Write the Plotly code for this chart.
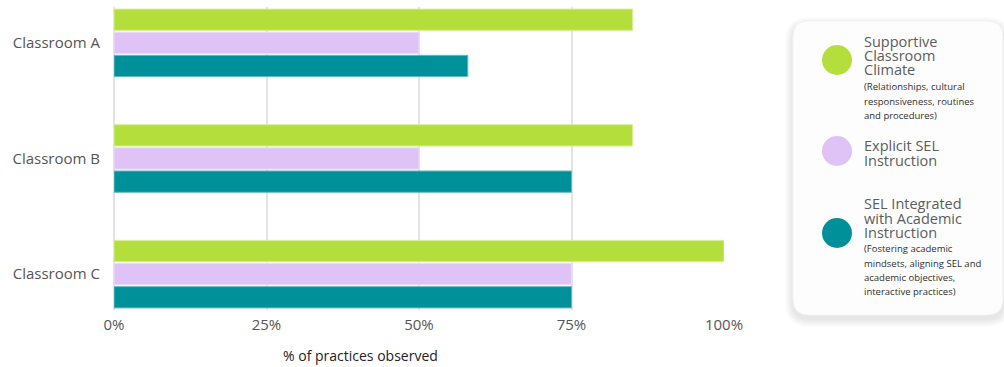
import plotly.graph_objects as go

# Share of observed practices per classroom, by practice domain
classrooms = ["Classroom A", "Classroom B", "Classroom C"]
supportive_climate = [85, 85, 100]
explicit_sel = [50, 50, 75]
sel_integrated = [58, 75, 75]

series_names = [
    "Supportive Classroom Climate",
    "Explicit SEL Instruction",
    "SEL Integrated with Academic Instruction",
]
series_values = [supportive_climate, explicit_sel, sel_integrated]
series_colors = ["#b4de3b", "#dfc2f6", "#00909a"]
series_edges = ["#d6ee94", "#ecdcf9", "#66b9be"]

x_ticks = [0, 25, 50, 75, 100]
x_tick_labels = ["0%", "25%", "50%", "75%", "100%"]
x_title = "% of practices observed"

W, H = 1004, 367
ML, MR, MT, MB = 114, 280, 7, 57
PW, PH = W - ML - MR, H - MT - MB

FONT = "'Open Sans', 'Noto Sans', sans-serif"


def px(x):
    return (x - ML) / PW


def py(y):
    return (H - MB - y) / PH


fig = go.Figure()
for name, vals, col, edge in zip(series_names, series_values, series_colors, series_edges):
    fig.add_trace(go.Bar(
        y=classrooms, x=vals, name=name, orientation="h",
        marker=dict(color=col, line=dict(color=edge, width=1)),
        showlegend=False,
        hovertemplate="%{y}: %{x}%<extra>" + name + "</extra>",
    ))

shapes = []


def rounded_rect(x0, y0, x1, y1, r):
    # rounded rectangle in pixel space, converted to paper coordinates
    def P(x, y):
        return f"{px(x):.5f},{py(y):.5f}"
    return (f"M {P(x0 + r, y0)} L {P(x1 - r, y0)} Q {P(x1, y0)} {P(x1, y0 + r)} "
            f"L {P(x1, y1 - r)} Q {P(x1, y1)} {P(x1 - r, y1)} "
            f"L {P(x0 + r, y1)} Q {P(x0, y1)} {P(x0, y1 - r)} "
            f"L {P(x0, y0 + r)} Q {P(x0, y0)} {P(x0 + r, y0)} Z")


# soft drop shadow behind the legend card
for i in range(8):
    g = 8 - i
    shapes.append(dict(type="path", xref="paper", yref="paper",
                       path=rounded_rect(793 - g, 21 - g + 4, 1003 + g, 315 + g + 4, 16 + g),
                       fillcolor="rgba(0,0,0,0.012)", line=dict(width=0), layer="below"))
shapes.append(dict(type="path", xref="paper", yref="paper",
                   path=rounded_rect(793, 21, 1003, 315, 16),
                   fillcolor="#fdfdfd", line=dict(color="#f3f3f3", width=1), layer="below"))

# legend swatches
circle_y = [60, 151, 233]
for cy, col in zip(circle_y, series_colors):
    shapes.append(dict(type="circle", xref="paper", yref="paper",
                       x0=px(837 - 15), x1=px(837 + 15), y0=py(cy + 15), y1=py(cy - 15),
                       fillcolor=col, line=dict(width=0)))

annotations = []


def text_line(txt, x, y, size, color, anchor="left"):
    annotations.append(dict(text=txt, x=px(x), y=py(y), xref="paper", yref="paper",
                            xanchor=anchor, yanchor="middle", showarrow=False,
                            font=dict(family=FONT, size=size, color=color)))


title_col = "#5c5c5c"
note_col = "#2f2f2f"
for t, y in zip(["Supportive", "Classroom", "Climate"], [42, 56, 70]):
    text_line(t, 862, y, 14.5, title_col)
for t, y in zip(["(Relationships, cultural", "responsiveness, routines", "and procedures)"], [87, 101, 115]):
    text_line(t, 862, y, 9.5, note_col)
for t, y in zip(["Explicit SEL", "Instruction"], [145, 160]):
    text_line(t, 862, y, 14.5, title_col)
for t, y in zip(["SEL Integrated", "with Academic", "Instruction"], [203, 218, 233]):
    text_line(t, 862, y, 14.5, title_col)
for t, y in zip(["(Fostering academic", "mindsets, aligning SEL and",
                 "academic objectives,", "interactive practices)"], [248, 263, 277, 291]):
    text_line(t, 862, y, 9.5, note_col)

# x-axis title
text_line(x_title, 360, 355, 14, "#222222", anchor="center")

fig.update_layout(
    width=W, height=H,
    margin=dict(l=ML, r=MR, t=MT, b=MB, pad=0),
    paper_bgcolor="white", plot_bgcolor="white",
    barmode="group", bargap=0.4, bargroupgap=0.08,
    shapes=shapes, annotations=annotations,
    xaxis=dict(range=[0, 100], tickvals=x_ticks, ticktext=x_tick_labels,
               showgrid=True, gridcolor="#e3e3e3", gridwidth=1.5,
               zeroline=True, zerolinecolor="#e3e3e3", zerolinewidth=1.5,
               showline=False, ticks="", ticklabelstandoff=4,
               tickfont=dict(family=FONT, size=15, color="#555555"),
               fixedrange=True),
    yaxis=dict(categoryorder="array", categoryarray=classrooms,
               range=[2.31, -0.31], showgrid=False, showline=False, ticks="",
               ticklabelstandoff=13,
               tickfont=dict(family=FONT, size=15, color="#555555"),
               fixedrange=True),
)

fig.write_html("out.html")
